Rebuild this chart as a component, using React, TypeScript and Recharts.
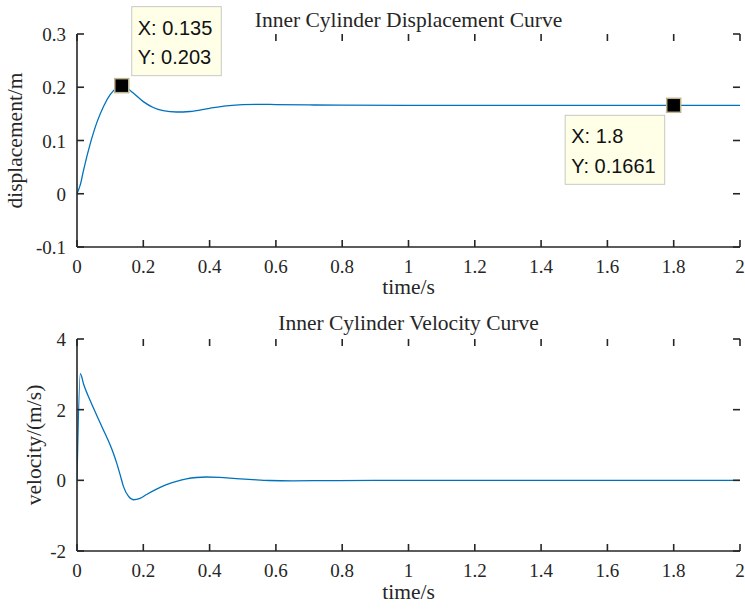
import React from "react";
import { LineChart, Line, XAxis, YAxis, ReferenceDot } from "recharts";

// time axis ticks shared by both panels
const timeTicks = [0, 0.2, 0.4, 0.6, 0.8, 1, 1.2, 1.4, 1.6, 1.8, 2];
const dispTicks = [-0.1, 0, 0.1, 0.2, 0.3];
const velTicks = [-2, 0, 2, 4];

// displacement curve (m)
const dispTime = [
  0, 0.01, 0.02, 0.04, 0.06, 0.08, 0.1, 0.12, 0.135, 0.15, 0.17, 0.2, 0.23,
  0.26, 0.3, 0.34, 0.4, 0.45, 0.5, 0.55, 0.6, 0.7, 0.8, 1.0, 1.2, 1.5, 1.8, 2.0,
];
const dispValue = [
  0, 0.017, 0.045, 0.094, 0.134, 0.164, 0.186, 0.199, 0.203, 0.199, 0.189,
  0.173, 0.162, 0.156, 0.1535, 0.1545, 0.1605, 0.165, 0.1675, 0.168, 0.1675,
  0.1668, 0.1663, 0.1661, 0.1661, 0.1661, 0.1661, 0.1661,
];

// velocity curve (m/s)
const velTime = [
  0, 0.01, 0.02, 0.04, 0.06, 0.08, 0.1, 0.11, 0.12, 0.13, 0.14, 0.155, 0.17,
  0.19, 0.21, 0.24, 0.27, 0.3, 0.33, 0.36, 0.39, 0.43, 0.48, 0.53, 0.58, 0.65,
  0.75, 0.9, 1.2, 1.6, 2.0,
];
const velValue = [
  0, 3.02, 2.72, 2.25, 1.83, 1.42, 1.0, 0.76, 0.48, 0.16, -0.17, -0.45, -0.55,
  -0.51, -0.4, -0.25, -0.12, -0.03, 0.04, 0.08, 0.095, 0.085, 0.05, 0.02,
  -0.005, -0.015, -0.008, 0, 0, 0, 0,
];

// data tips on the displacement curve
const tipX = [0.135, 1.8];
const tipY = [0.203, 0.1661];

const dispData = dispTime.map((t, i) => ({ t, v: dispValue[i] }));
const velData = velTime.map((t, i) => ({ t, v: velValue[i] }));

const AXIS = "#262626";
const LINE = "#0072BD";
const SERIF = "Liberation Serif";
const SANS = "Liberation Sans";
const TICK_FONT = 19;
const LABEL_FONT = 21.5;
const TIP_FONT = 20;
const TICK_LEN = 7;
const CHART_W = 745;
const CHART_H = 309;
const Y_AXIS_W = 77;
const RIGHT_PAD = 5;
const PLOT_W = CHART_W - Y_AXIS_W - RIGHT_PAD;

let ctx: CanvasRenderingContext2D | null = null;
const measure = (s: string) => {
  if (!ctx) ctx = document.createElement("canvas").getContext("2d");
  if (!ctx) return s.length * 10;
  ctx.font = `${TIP_FONT}px "${SANS}"`;
  return ctx.measureText(s).width;
};

// bottom tick: inward mark on bottom and mirrored mark on the top border, plus label
const makeBottomTick = (plotH: number) => (props: any) => {
  const { x, y, payload } = props;
  const top = y - plotH;
  return (
    <g>
      <line x1={x} y1={y} x2={x} y2={y - TICK_LEN} stroke={AXIS} strokeWidth={1.6} />
      <line x1={x} y1={top} x2={x} y2={top + TICK_LEN} stroke={AXIS} strokeWidth={1.6} />
      <text x={x} y={y + 26} textAnchor="middle" fill={AXIS} fontSize={TICK_FONT} fontFamily={SERIF}>
        {String(payload.value)}
      </text>
    </g>
  );
};

// left tick: inward mark on left and mirrored mark on the right border, plus label
const LeftTick = (props: any) => {
  const { x, y, payload } = props;
  const right = x + PLOT_W;
  return (
    <g>
      <line x1={x} y1={y} x2={x + TICK_LEN} y2={y} stroke={AXIS} strokeWidth={1.6} />
      <line x1={right} y1={y} x2={right - TICK_LEN} y2={y} stroke={AXIS} strokeWidth={1.6} />
      <text x={x - 11} y={y + 7} textAnchor="end" fill={AXIS} fontSize={TICK_FONT} fontFamily={SERIF}>
        {String(payload.value)}
      </text>
    </g>
  );
};

// marker + yellow data tip box, box placed up-right or down-left of the point
const makeTip = (tx: number, ty: number, below: boolean) => (props: any) => {
  const { cx, cy } = props;
  const lines = [`X: ${tx}`, `Y: ${ty}`];
  const w = Math.max(...lines.map(measure)) + 15;
  const h = 69;
  const bx = below ? cx - 9 - w : cx + 10;
  const by = below ? cy + 10 : cy - 10 - h;
  return (
    <g>
      <rect x={bx} y={by} width={w} height={h} fill="#ffffe8" stroke="#c9c9c2" strokeWidth={1} />
      {lines.map((s, i) => (
        <text key={i} x={bx + 6} y={by + 28 + i * 29.3} fill="#111" fontSize={TIP_FONT} fontFamily={SANS}>
          {s}
        </text>
      ))}
      <rect x={cx - 7} y={cy - 7} width={14} height={14} fill="#000" stroke="#bdb58f" strokeWidth={1.5} />
    </g>
  );
};

interface PanelProps {
  data: { t: number; v: number }[];
  yTicks: number[];
  top: number;
  marginTop: number;
  xAxisHeight: number;
  children?: React.ReactNode;
}

const Panel = ({ data, yTicks, top, marginTop, xAxisHeight, children }: PanelProps) => {
  const yDomain = [yTicks[0], yTicks[yTicks.length - 1]];
  const plotH = CHART_H - marginTop - xAxisHeight;
  return (
    <div style={{ position: "absolute", left: 0, top }}>
      <LineChart
        width={CHART_W}
        height={CHART_H}
        data={data}
        margin={{ top: marginTop, right: RIGHT_PAD, bottom: 0, left: 0 }}
      >
        <XAxis
          dataKey="t"
          type="number"
          domain={[0, 2]}
          ticks={timeTicks}
          interval={0}
          allowDataOverflow
          height={xAxisHeight}
          tickSize={0}
          tickMargin={0}
          tickLine={false}
          axisLine={{ stroke: AXIS, strokeWidth: 1.6 }}
          tick={makeBottomTick(plotH)}
        />
        <XAxis
          xAxisId="top"
          orientation="top"
          type="number"
          domain={[0, 2]}
          height={0}
          tickLine={false}
          tick={false}
          axisLine={{ stroke: AXIS, strokeWidth: 1.6 }}
        />
        <YAxis
          type="number"
          domain={yDomain}
          ticks={yTicks}
          interval={0}
          allowDataOverflow
          width={Y_AXIS_W}
          tickSize={0}
          tickMargin={0}
          tickLine={false}
          axisLine={{ stroke: AXIS, strokeWidth: 1.6 }}
          tick={LeftTick}
        />
        <YAxis
          yAxisId="right"
          orientation="right"
          type="number"
          domain={yDomain}
          width={0}
          tickLine={false}
          tick={false}
          axisLine={{ stroke: AXIS, strokeWidth: 1.6 }}
        />
        <Line type="monotone" dataKey="v" stroke={LINE} strokeWidth={1.3} dot={false} isAnimationActive={false} />
        {children}
      </LineChart>
    </div>
  );
};

export default function App() {
  const txt = { fontFamily: SERIF, fontSize: LABEL_FONT, fill: AXIS };
  return (
    <div style={{ position: "absolute", left: 0, top: 0, width: 745, height: 609, background: "#fff" }}>
      <Panel data={dispData} yTicks={dispTicks} top={0} marginTop={34} xAxisHeight={62}>
        {tipX.map((x, i) => (
          <ReferenceDot
            key={i}
            x={x}
            y={tipY[i]}
            r={7}
            ifOverflow="visible"
            shape={makeTip(x, tipY[i], i === 1)}
            zIndex={2000}
          />
        ))}
      </Panel>
      <Panel data={velData} yTicks={velTicks} top={300} marginTop={39} xAxisHeight={58} />
      <svg width={745} height={609} style={{ position: "absolute", left: 0, top: 0, pointerEvents: "none" }}>
        <text x={408.5} y={27} textAnchor="middle" {...txt}>Inner Cylinder Displacement Curve</text>
        <text x={408.5} y={294} textAnchor="middle" {...txt}>time/s</text>
        <text x={22} y={140.5} textAnchor="middle" transform="rotate(-90 22 140.5)" {...txt}>displacement/m</text>
        <text x={408.5} y={330} textAnchor="middle" {...txt}>Inner Cylinder Velocity Curve</text>
        <text x={408.5} y={599} textAnchor="middle" {...txt}>time/s</text>
        <text x={41} y={445} textAnchor="middle" transform="rotate(-90 41 445)" {...txt}>velocity/(m/s)</text>
      </svg>
    </div>
  );
}
